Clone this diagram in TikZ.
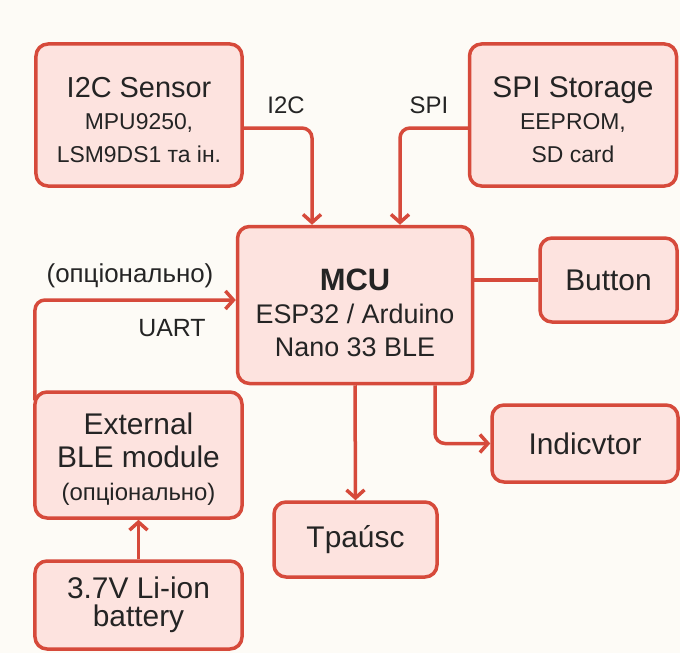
\documentclass[tikz,border=0pt]{standalone}
\usepackage{fontspec}
\setmainfont{Liberation Sans}
\usetikzlibrary{arrows.meta, positioning, calc}
\definecolor{boxred}{HTML}{D64A3B}
\definecolor{boxfill}{HTML}{FDE3DF}
\definecolor{paper}{HTML}{FDFBF6}
\definecolor{inkgray}{HTML}{242424}
\newcommand{\headfont}{\fontsize{30}{33}\selectfont}
\newcommand{\subfont}{\fontsize{23}{32}\selectfont}

\begin{document}
\begin{tikzpicture}[
    x=1bp, y=-1bp,
    >={Straight Barb[length=8bp,width=18bp]},
    block/.style={draw=boxred, fill=boxfill, line width=3.5bp, rounded corners=12bp, align=center, text=inkgray, inner sep=0pt, font=\headfont},
    link/.style={draw=boxred, line width=3.5bp, rounded corners=10bp},
    tag/.style={text=inkgray, inner sep=0pt, font=\fontsize{24}{28}\selectfont}
  ]
    \fill[paper] (0,0) rectangle (680,653);

    % Blocks
    \node[block, minimum width=206bp, minimum height=142bp] (sensor) at (139,115)
      {\rule{0pt}{30bp}\fontsize{29}{33}\selectfont I2C Sensor\\ \subfont MPU9250,\\ \subfont LSM9DS1 та ін.};
    \node[block, minimum width=207bp, minimum height=142bp] (storage) at (573,115)
      {\rule{0pt}{30bp}SPI Storage\\ \subfont EEPROM,\\ \subfont SD card};
    \node[block, minimum width=235bp, minimum height=157bp] (mcu) at (355,305)
      {\rule{0pt}{38bp}\fontsize{31}{37}\bfseries MCU\\ \fontsize{27}{34}\selectfont ESP32 / Arduino\\ \fontsize{27}{33}\selectfont Nano 33 BLE};
    \node[block, minimum width=137bp, minimum height=84bp] (button) at (608.5,280) {Button};
    \node[block, minimum width=186bp, minimum height=77bp] (indicator) at (585,443.5) {Indicvtor};
    \node[block, minimum width=163bp, minimum height=75bp] (trans) at (355.5,539.5) {Tpaúsc};
    \node[block, minimum width=207bp, minimum height=126bp] (ble) at (138.5,455)
      {\rule{0pt}{30bp}External\\ BLE module\\ \fontsize{24}{34}\selectfont(опціонально)};
    \node[block, minimum width=207bp, minimum height=88bp] (battery) at (138.5,605)
      {3.7V Li-ion\\[-5bp] battery};

    % Connectors
    \draw[link, ->] (sensor.east |- 0,128) -| ($(mcu.north)+(-43,0)$);
    \draw[link, ->] (storage.west |- 0,128) -| ($(mcu.north)+(45,0)$);
    \draw[link] (mcu.east |- button.west) -- (button.west);
    \draw[link, ->] (mcu.south) -- (trans.north);
    \draw[link, ->] ($(mcu.south)+(80,0)$) |- (indicator.west);
    \draw[link, ->] (battery.north) -- (ble.north |- ble.south);
    \draw[link, ->] ($(ble.north west)+(1.75,10)$) |- (mcu.west |- 0,300);

    % Labels
    \node[tag] (i2ctag) at (286,105) {I2C};
    \node[tag] (spitag) at (429,105) {SPI};
    \node[tag, font=\fontsize{26}{30}\selectfont] (opttag) at (130,276) {(опціонально)};
    \node[tag, font=\fontsize{25}{30}\selectfont] (uarttag) at (172,328) {UART};
  \end{tikzpicture}
\end{document}
